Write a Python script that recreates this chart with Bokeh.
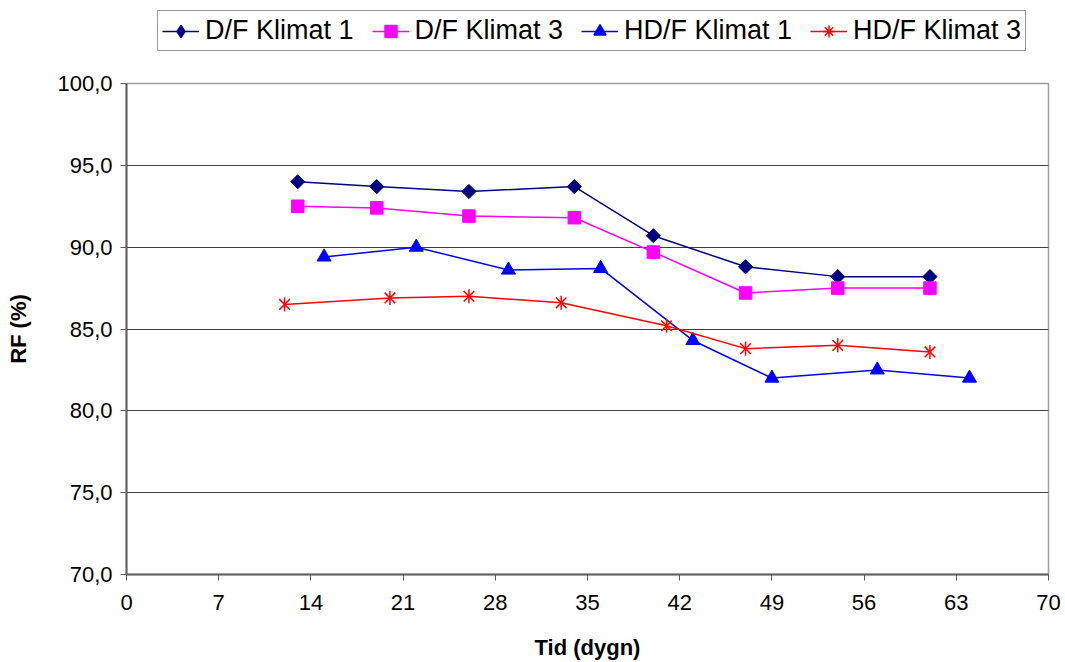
import math
from bokeh.plotting import figure
from bokeh.layouts import column
from bokeh.models import (Range1d, FixedTicker, CustomJSTickFormatter, Legend, LegendItem)
from bokeh.embed import file_html
from bokeh.resources import INLINE

# ---- data ----
df_k1_x = [13, 19, 26, 34, 40, 47, 54, 61]
df_k1_y = [94.0, 93.7, 93.4, 93.7, 90.7, 88.8, 88.2, 88.2]

df_k3_x = [13, 19, 26, 34, 40, 47, 54, 61]
df_k3_y = [92.5, 92.4, 91.9, 91.8, 89.7, 87.2, 87.5, 87.5]

hdf_k1_x = [15, 22, 29, 36, 43, 49, 57, 64]
hdf_k1_y = [89.4, 90.0, 88.6, 88.7, 84.3, 82.0, 82.5, 82.0]

hdf_k3_x = [12, 20, 26, 33, 41, 47, 54, 61]
hdf_k3_y = [86.5, 86.9, 87.0, 86.6, 85.2, 83.8, 84.0, 83.6]

x_ticks = [0, 7, 14, 21, 28, 35, 42, 49, 56, 63, 70]
y_ticks = [70, 75, 80, 85, 90, 95, 100]

labels = ["D/F Klimat 1", "D/F Klimat 3", "HD/F Klimat 1", "HD/F Klimat 3"]
colors = ["#000080", "#FF00FF", "#0000FF", "#FF0000"]
series_x = [df_k1_x, df_k3_x, hdf_k1_x, hdf_k3_x]
series_y = [df_k1_y, df_k3_y, hdf_k1_y, hdf_k3_y]

FONT = "Liberation Sans"
W = 1063
LEG_H = 70
TOTAL_H = 662

# ---------------- main chart ----------------
p = figure(width=W, height=TOTAL_H - LEG_H, output_backend="svg", toolbar_location=None,
           x_range=Range1d(0, 70), y_range=Range1d(70, 100),
           min_border_left=126, min_border_right=15, min_border_top=83 - LEG_H,
           min_border_bottom=TOTAL_H - 574)

p.background_fill_color = "white"
p.border_fill_color = "white"
p.outline_line_color = "#A0A0A0"
p.outline_line_width = 1.5

p.xgrid.grid_line_color = None
p.ygrid.grid_line_color = "#404040"
p.ygrid.grid_line_width = 1
p.ygrid.ticker = FixedTicker(ticks=y_ticks)

p.xaxis.ticker = FixedTicker(ticks=x_ticks)
p.yaxis.ticker = FixedTicker(ticks=y_ticks)
p.yaxis.formatter = CustomJSTickFormatter(code="return tick.toFixed(1).replace('.', ',');")

for ax in (p.xaxis[0], p.yaxis[0]):
    ax.axis_line_color = "#606060"
    ax.axis_line_width = 2
    ax.major_tick_line_color = "#606060"
    ax.major_tick_line_width = 1
    ax.major_tick_in = 0
    ax.major_tick_out = 6
    ax.minor_tick_line_color = None
    ax.major_label_text_font = FONT
    ax.major_label_text_font_size = "22px"
    ax.major_label_text_color = "black"
    ax.axis_label_text_font = FONT
    ax.axis_label_text_font_size = "22px"
    ax.axis_label_text_font_style = "bold"
    ax.axis_label_text_color = "black"

p.xaxis.axis_label = "Tid (dygn)"
p.yaxis.axis_label = "RF (%)"
p.xaxis.major_label_standoff = 14
p.yaxis.major_label_standoff = 8
p.xaxis.axis_label_standoff = 22
p.yaxis.axis_label_standoff = 23

p.line(df_k1_x, df_k1_y, line_color=colors[0], line_width=1.5)
p.scatter(df_k1_x, df_k1_y, marker="square", size=10, angle=math.pi / 4,
          fill_color=colors[0], line_color=colors[0])

p.line(df_k3_x, df_k3_y, line_color=colors[1], line_width=1.5)
p.scatter(df_k3_x, df_k3_y, marker="square", size=12.5, fill_color=colors[1], line_color=colors[1])

p.line(hdf_k1_x, hdf_k1_y, line_color=colors[2], line_width=1.5)
p.scatter(hdf_k1_x, hdf_k1_y, marker="triangle", size=14, fill_color=colors[2], line_color=colors[2])

p.line(hdf_k3_x, hdf_k3_y, line_color=colors[3], line_width=1.5)
p.scatter(hdf_k3_x, hdf_k3_y, marker="x", size=15, line_color=colors[3], line_width=1.5)
p.scatter(hdf_k3_x, hdf_k3_y, marker="dash", size=14, angle=math.pi / 2,
          line_color=colors[3], line_width=1.5)

# ---------------- legend strip (series drawn off-view, only legend visible) ----------------
lg = figure(width=W, height=LEG_H, output_backend="svg", toolbar_location=None,
            x_range=Range1d(-2, -1), y_range=Range1d(-2, -1),
            x_axis_type=None, y_axis_type=None,
            min_border_left=0, min_border_right=0, min_border_top=0, min_border_bottom=0)
lg.outline_line_color = None
lg.xgrid.grid_line_color = None
lg.ygrid.grid_line_color = None
lg.background_fill_color = "white"
lg.border_fill_color = "white"

markers = ["diamond", "square", "triangle", "asterisk"]
msizes = [15, 12.5, 14, 15]
items = []
for lab, col, mk, ms, sx, sy in zip(labels, colors, markers, msizes, series_x, series_y):
    lr = lg.line(sx, sy, line_color=col, line_width=1.5)
    mr = lg.scatter(sx, sy, marker=mk, size=ms, fill_color=col, line_color=col, line_width=1.5)
    items.append(LegendItem(label=lab, renderers=[lr, mr]))

legend = Legend(items=items, orientation="horizontal", location=(31, 19),
                label_text_font=FONT, label_text_font_size="27px", label_text_color="black",
                glyph_width=37, glyph_height=30, label_standoff=6, spacing=18,
                padding=4, margin=0,
                border_line_color="#333333", border_line_width=1,
                background_fill_color="white", background_fill_alpha=1)
lg.add_layout(legend, "center")

layout = column(lg, p, spacing=0)
open("out.html", "w").write(file_html(layout, INLINE))
